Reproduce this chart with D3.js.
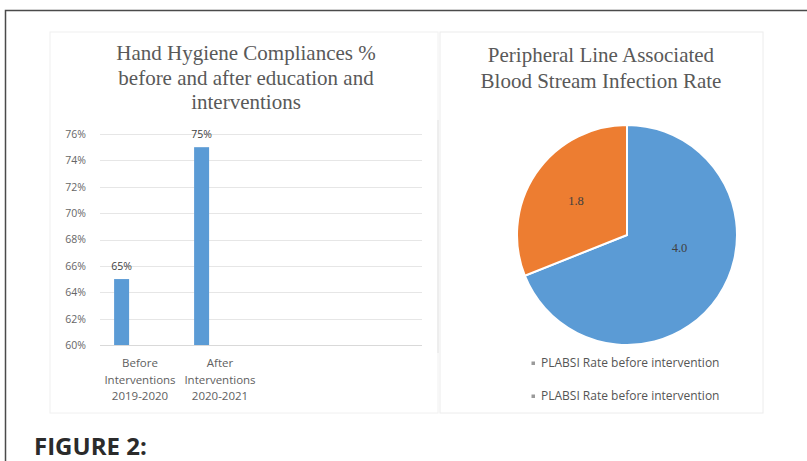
<!DOCTYPE html>
<html>
<head>
<meta charset="utf-8">
<script src="https://cdn.jsdelivr.net/npm/d3@7"></script>
<style>
  body { margin: 0; background: #fff; }
  svg { display: block; }
</style>
</head>
<body>
<div id="chart"></div>
<script>
// bar chart data
var barCategories = [["Before", "Interventions", "2019-2020"], ["After", "Interventions", "2020-2021"]];
var barValues = [65, 75];
var barTicks = [60, 62, 64, 66, 68, 70, 72, 74, 76];
var barTitle = ["Hand Hygiene Compliances %", "before and after education and", "interventions"];

// pie chart data
var pieValues = [4.0, 1.8];
var pieLabels = ["4.0", "1.8"];
var pieLegend = ["PLABSI Rate before intervention", "PLABSI Rate before intervention"];
var pieTitle = ["Peripheral Line Associated", "Blood Stream Infection Rate"];
var pieColors = ["#5b9bd5", "#ed7d31"];

var width = 807, height = 461;
var svg = d3.select("#chart").append("svg")
    .attr("width", width)
    .attr("height", height);

// outer frame (top + left edges)
svg.append("path")
    .attr("d", "M5.5,461 L5.5,10.5 L807,10.5")
    .attr("fill", "none")
    .attr("stroke", "#4a4a4a")
    .attr("stroke-width", 1.5);

// panels
svg.append("rect").attr("x", 50).attr("y", 32).attr("width", 388).attr("height", 381)
    .attr("fill", "#fff").attr("stroke", "#f0f0f0");
svg.append("rect").attr("x", 440).attr("y", 32).attr("width", 323).attr("height", 381)
    .attr("fill", "#fff").attr("stroke", "#ececec");
svg.append("line").attr("x1", 438).attr("x2", 438).attr("y1", 120).attr("y2", 353)
    .attr("stroke", "#e4e4e4");

var serif = "'Liberation Serif', 'Times New Roman', serif";
var sans = "'Open Sans', 'DejaVu Sans', sans-serif";

// ---------- bar chart ----------
svg.append("g").selectAll("text")
    .data(barTitle)
    .enter().append("text")
    .attr("x", 246)
    .attr("y", function (d, i) { return 60 + i * 24.5; })
    .attr("text-anchor", "middle")
    .style("font-family", serif)
    .style("font-size", "21px")
    .style("fill", "#595959")
    .text(function (d) { return d; });

var yScale = d3.scaleLinear().domain([60, 76]).range([345, 134]);
var xScale = d3.scaleBand().domain([0, 1]).range([100, 260]);

var yAxis = d3.axisLeft(yScale)
    .tickValues(barTicks)
    .tickSize(0)
    .tickPadding(0)
    .tickFormat(function (d) { return d + "%"; });

var gy = svg.append("g")
    .attr("transform", "translate(86,0)")
    .call(yAxis);
gy.select(".domain").remove();
gy.selectAll("text")
    .style("font-family", sans)
    .style("font-size", "10.5px")
    .style("fill", "#666");

// gridlines
svg.append("g").selectAll("line")
    .data(barTicks)
    .enter().append("line")
    .attr("x1", 100)
    .attr("x2", 422)
    .attr("y1", function (d) { return Math.round(yScale(d)) + 0.5; })
    .attr("y2", function (d) { return Math.round(yScale(d)) + 0.5; })
    .attr("stroke", function (d) { return d === 60 ? "#d9d9d9" : "#e6e6e6"; });

var barW = 15;
svg.append("g").selectAll("rect")
    .data(barValues)
    .enter().append("rect")
    .attr("x", function (d, i) { return xScale(i) + xScale.bandwidth() * 0.27 - barW / 2; })
    .attr("y", function (d) { return yScale(d); })
    .attr("width", barW)
    .attr("height", function (d) { return yScale(60) - yScale(d); })
    .attr("fill", "#5b9bd5");

svg.append("g").selectAll("text")
    .data(barValues)
    .enter().append("text")
    .attr("x", function (d, i) { return xScale(i) + xScale.bandwidth() * 0.27; })
    .attr("y", function (d) { return yScale(d) - 9; })
    .attr("text-anchor", "middle")
    .style("font-family", sans)
    .style("font-size", "10.5px")
    .style("fill", "#404040")
    .text(function (d) { return d + "%"; });

var cat = svg.append("g").selectAll("text")
    .data(barCategories)
    .enter().append("text")
    .attr("text-anchor", "middle")
    .style("font-family", sans)
    .style("font-size", "11.5px")
    .style("fill", "#606060");
cat.selectAll("tspan")
    .data(function (d, i) { return d.map(function (s) { return {s: s, i: i}; }); })
    .enter().append("tspan")
    .attr("x", function (d) { return xScale(d.i) + xScale.bandwidth() / 2; })
    .attr("y", function (d, j) { return 367 + j * 16.5; })
    .text(function (d) { return d.s; });

// ---------- pie chart ----------
svg.append("g").selectAll("text")
    .data(pieTitle)
    .enter().append("text")
    .attr("x", 601)
    .attr("y", function (d, i) { return 62 + i * 26; })
    .attr("text-anchor", "middle")
    .style("font-family", serif)
    .style("font-size", "21px")
    .style("fill", "#595959")
    .text(function (d) { return d; });

var radius = 110;
var pie = d3.pie().sort(null).value(function (d) { return d; });
var arc = d3.arc().innerRadius(0).outerRadius(radius);

var gp = svg.append("g").attr("transform", "translate(627,235)");
var arcs = pie(pieValues);
gp.selectAll("path")
    .data(arcs)
    .enter().append("path")
    .attr("d", arc)
    .attr("fill", function (d, i) { return pieColors[i]; })
    .attr("stroke", "#fff")
    .attr("stroke-width", 2);

// label placement like the office "best fit": big slice label pulled toward its start
function labelPos(d) {
    var span = d.endAngle - d.startAngle;
    var a = span > Math.PI ? d.startAngle + span * 0.415 : (d.startAngle + d.endAngle) / 2;
    var r = span > Math.PI ? radius * 0.49 : radius * 0.56;
    return [Math.sin(a) * r, -Math.cos(a) * r];
}

gp.selectAll("text")
    .data(arcs)
    .enter().append("text")
    .attr("transform", function (d) { return "translate(" + labelPos(d) + ")"; })
    .attr("dy", "0.35em")
    .attr("text-anchor", "middle")
    .style("font-family", serif)
    .style("font-size", "12.5px")
    .style("fill", "#404040")
    .text(function (d, i) { return pieLabels[i]; });

var leg = svg.append("g").selectAll("g")
    .data(pieLegend)
    .enter().append("g")
    .attr("transform", function (d, i) { return "translate(533," + (363 + i * 33) + ")"; });
leg.append("rect")
    .attr("x", -1.5).attr("y", -1.5).attr("width", 3.5).attr("height", 3.5)
    .attr("fill", "#9a9a9a");
leg.append("text")
    .attr("x", 8)
    .attr("dy", "0.35em")
    .style("font-family", sans)
    .style("font-size", "12px")
    .style("fill", "#555")
    .text(function (d) { return d; });

// caption
svg.append("text")
    .attr("x", 34)
    .attr("y", 455)
    .style("font-family", "'Open Sans', sans-serif")
    .style("font-weight", "bold")
    .style("font-size", "24px")
    .style("fill", "#2b2b2b")
    .text("FIGURE 2:");
</script>
</body>
</html>
